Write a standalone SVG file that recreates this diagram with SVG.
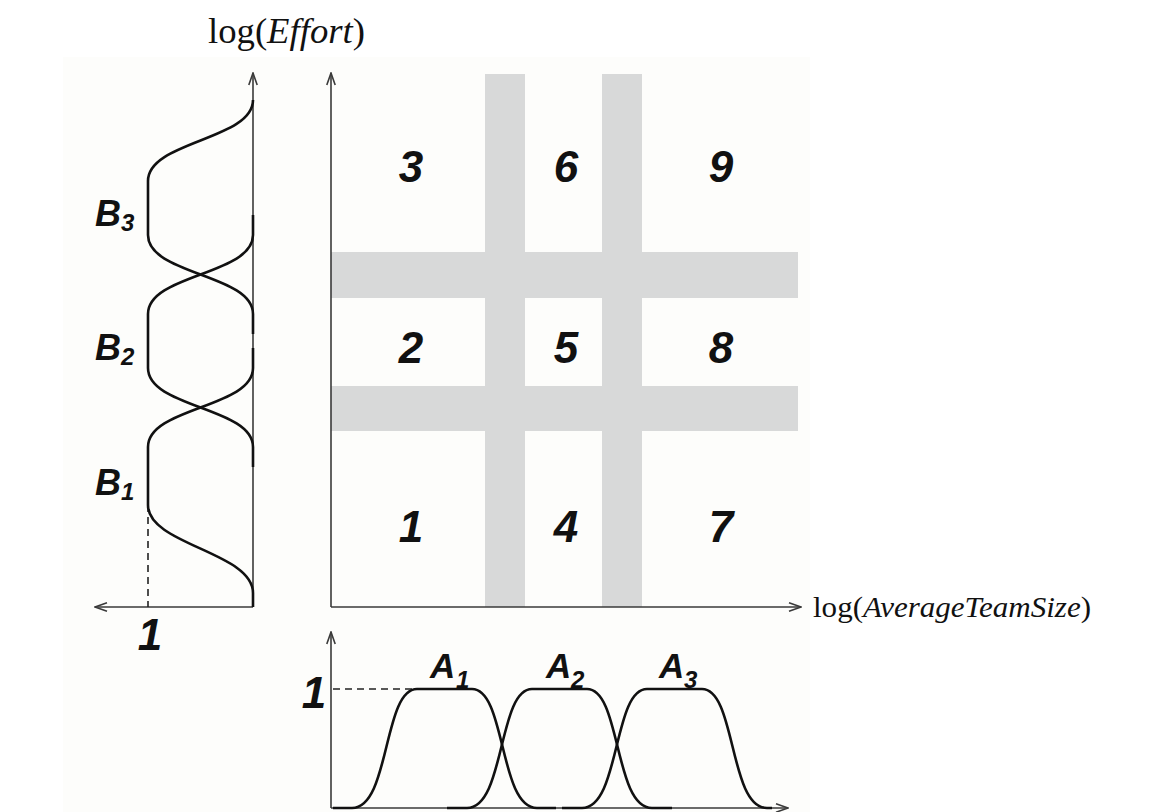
<svg xmlns="http://www.w3.org/2000/svg" width="1156" height="812" viewBox="0 0 1156 812">
<defs>
<style>
.axis{stroke:#3a3a3a;stroke-width:1.6;fill:none}
.curve{stroke:#111;stroke-width:2.6;fill:none;stroke-linejoin:round}
.dash{stroke:#222;stroke-width:1.6;fill:none;stroke-dasharray:7,5}
.band{fill:#d8d9d9}
.num{font-family:"Liberation Sans",Arial,sans-serif;font-weight:bold;font-style:italic;font-size:44px;fill:#111;text-anchor:middle}
.lbl{font-family:"Liberation Sans",Arial,sans-serif;font-weight:bold;font-style:italic;fill:#111}
.tm{font-family:"Liberation Serif","Times New Roman",serif;fill:#111}
</style>
<marker id="arr" viewBox="0 0 14 10" refX="13" refY="5" markerWidth="14" markerHeight="10" markerUnits="userSpaceOnUse" orient="auto">
<path d="M1,0.8 L13,5 L1,9.2" fill="none" stroke="#3a3a3a" stroke-width="1.6"/>
</marker>
</defs>
<rect x="0" y="0" width="1156" height="812" fill="#ffffff"/>
<rect x="63" y="57" width="747" height="755" fill="#fdfdfb"/>

<g id="grid-bands">
<rect class="band" x="485" y="74" width="40" height="533"/>
<rect class="band" x="602" y="74" width="40" height="533"/>
<rect class="band" x="331" y="252" width="467" height="46"/>
<rect class="band" x="331" y="386" width="467" height="45"/>
</g>

<g id="connectors">
<line id="left-y-axis" class="axis" x1="253" y1="607" x2="253" y2="73" marker-end="url(#arr)"/>
<line id="left-x-axis" class="axis" x1="253" y1="607" x2="95" y2="607" marker-end="url(#arr)"/>
<line id="main-y-axis" class="axis" x1="331" y1="607" x2="331" y2="73" marker-end="url(#arr)"/>
<line id="main-x-axis" class="axis" x1="331" y1="607" x2="801" y2="607" marker-end="url(#arr)"/>
<line id="bottom-y-axis" class="axis" x1="331" y1="808" x2="331" y2="632" marker-end="url(#arr)"/>
<line id="bottom-x-axis" class="axis" x1="331" y1="808" x2="788" y2="808" marker-end="url(#arr)"/>
<line class="dash" x1="148" y1="505" x2="148" y2="607"/>
<line class="dash" x1="333" y1="689" x2="420" y2="689"/>
</g>

<g id="B3">
<path class="curve" d="M253,100 C253,140 148,141 148,181 L148,235 C148,275 253,274 253,314 L253,334"/>
<text class="lbl" x="95" y="226" font-size="36">B</text>
<text class="lbl" x="121" y="231" font-size="24">3</text>
</g>
<g id="B2">
<path class="curve" d="M253,215 L253,235 C253,275 148,274 148,314 L148,368 C148,408 253,407 253,447 L253,467"/>
<text class="lbl" x="95" y="360" font-size="36">B</text>
<text class="lbl" x="121" y="365" font-size="24">2</text>
</g>
<g id="B1">
<path class="curve" d="M253,348 L253,368 C253,408 148,407 148,447 L148,505 C148,545 253,552 253,593 L253,607"/>
<text class="lbl" x="95" y="495" font-size="36">B</text>
<text class="lbl" x="121" y="500" font-size="24">1</text>
</g>

<g id="A1">
<path class="curve" d="M333,808 L352,808 C390,808 383,689 417,689 L472,689 C506,689 499,808 537,808 L556,808"/>
<text class="lbl" x="430" y="678" font-size="35">A</text>
<text class="lbl" x="456" y="688" font-size="24">1</text>
</g>
<g id="A2">
<path class="curve" d="M447,808 L467,808 C505,808 498,689 532,689 L587,689 C621,689 614,808 652,808 L672,808"/>
<text class="lbl" x="546" y="678" font-size="35">A</text>
<text class="lbl" x="571" y="688" font-size="24">2</text>
</g>
<g id="A3">
<path class="curve" d="M562,808 L582,808 C620,808 613,689 647,689 L702,689 C736,689 729,808 767,808 L772,808"/>
<text class="lbl" x="659" y="678" font-size="35">A</text>
<text class="lbl" x="684" y="688" font-size="24">3</text>
</g>

<g id="cells">
<text id="c3" class="num" x="411" y="182">3</text>
<text id="c6" class="num" x="566" y="182">6</text>
<text id="c9" class="num" x="721" y="182">9</text>
<text id="c2" class="num" x="411" y="363">2</text>
<text id="c5" class="num" x="566" y="363">5</text>
<text id="c8" class="num" x="721" y="363">8</text>
<text id="c1" class="num" x="411" y="542">1</text>
<text id="c4" class="num" x="566" y="542">4</text>
<text id="c7" class="num" x="721" y="542">7</text>
</g>

<g id="labels">
<text class="num" x="150" y="650">1</text>
<text class="num" x="314" y="708">1</text>
<text class="tm" x="208" y="43" font-size="35" textLength="157" lengthAdjust="spacingAndGlyphs">log(<tspan font-style="italic">Effort</tspan>)</text>
<text class="tm" x="813" y="617" font-size="30" textLength="278" lengthAdjust="spacingAndGlyphs">log(<tspan font-style="italic">AverageTeamSize</tspan>)</text>
</g>
</svg>
